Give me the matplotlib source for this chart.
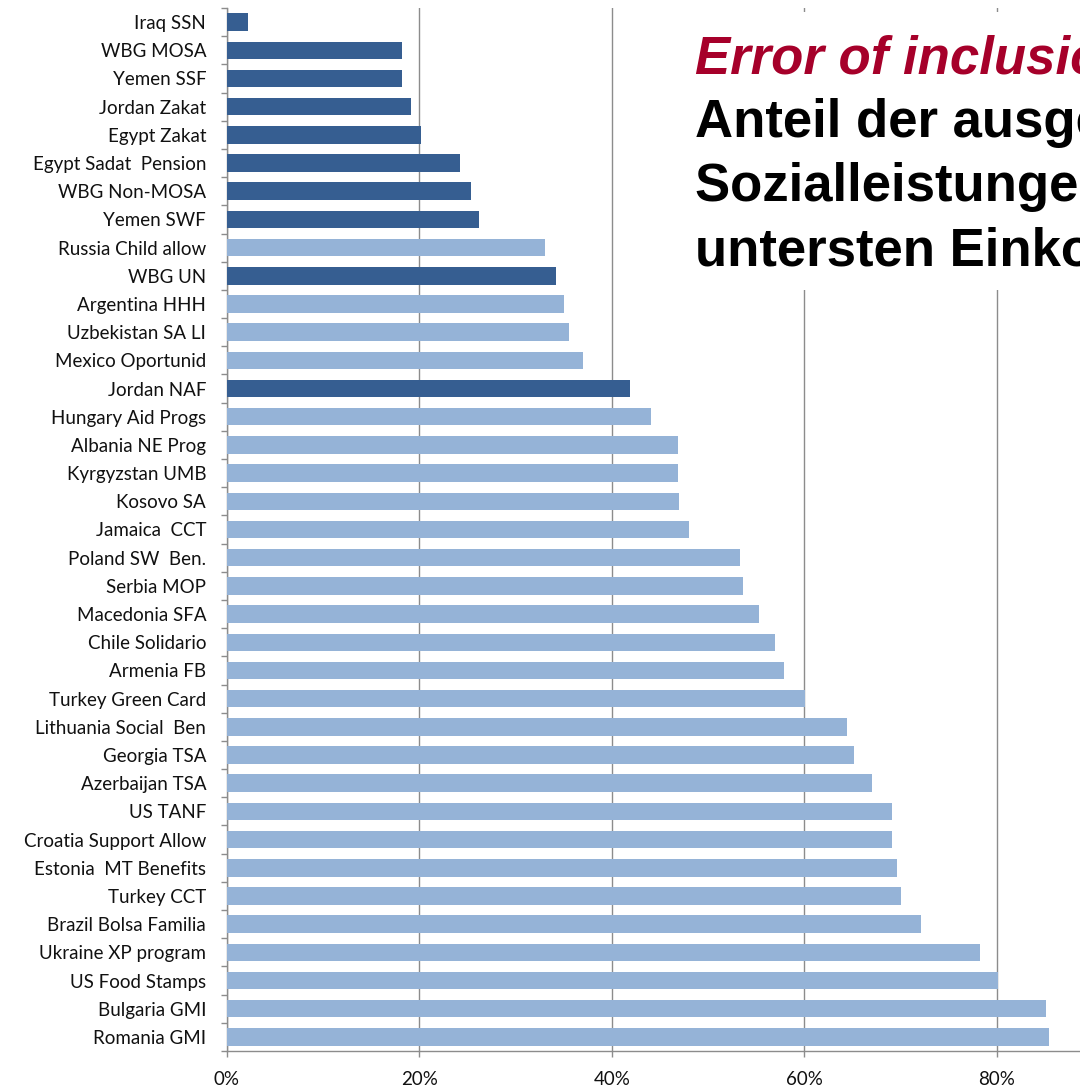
import matplotlib
matplotlib.use("Agg")
import matplotlib.pyplot as plt
from matplotlib.patches import Rectangle
from matplotlib.ticker import FixedLocator, PercentFormatter

# programmes, top to bottom
programs = ["Iraq SSN", "WBG MOSA", "Yemen SSF", "Jordan Zakat", "Egypt Zakat",
            "Egypt Sadat  Pension", "WBG Non-MOSA", "Yemen SWF", "Russia Child allow",
            "WBG UN", "Argentina HHH", "Uzbekistan SA LI", "Mexico Oportunid",
            "Jordan NAF", "Hungary Aid Progs", "Albania NE Prog", "Kyrgyzstan UMB",
            "Kosovo SA", "Jamaica  CCT", "Poland SW  Ben.", "Serbia MOP",
            "Macedonia SFA", "Chile Solidario", "Armenia FB", "Turkey Green Card",
            "Lithuania Social  Ben", "Georgia TSA", "Azerbaijan TSA", "US TANF",
            "Croatia Support Allow", "Estonia  MT Benefits", "Turkey CCT",
            "Brazil Bolsa Familia", "Ukraine XP program", "US Food Stamps",
            "Bulgaria GMI", "Romania GMI"]
share = [0.022, 0.182, 0.182, 0.191, 0.202, 0.242, 0.254, 0.262, 0.331,
         0.342, 0.350, 0.356, 0.370, 0.419, 0.441, 0.469, 0.469, 0.470,
         0.480, 0.533, 0.536, 0.553, 0.570, 0.579, 0.601, 0.645, 0.652,
         0.670, 0.691, 0.691, 0.696, 0.701, 0.721, 0.783, 0.801, 0.851, 0.854]
# 1 = Middle East / North Africa programme (dark bars)
mena = [1, 1, 1, 1, 1, 1, 1, 1, 0, 1, 0, 0, 0, 1, 0, 0, 0, 0, 0, 0, 0, 0,
        0, 0, 0, 0, 0, 0, 0, 0, 0, 0, 0, 0, 0, 0, 0]
xticks = [0, 0.2, 0.4, 0.6, 0.8]

dark = "#365E91"
light = "#95B3D7"
grey = "#8C8C8C"

W, H = 1080, 1088
fig = plt.figure(figsize=(10.8, 10.88), dpi=100)
ax = fig.add_axes([227 / W, (H - 1051) / H, 962 / W, (1051 - 8) / H])

cols = [dark if m else light for m in mena]
ypos = list(range(len(programs)))
ax.barh(ypos, share, height=0.62, color=cols, zorder=3)

ax.set_xlim(0, 1.0)
ax.set_ylim(len(programs) - 0.5, -0.5)
ax.set_xticks(xticks)
ax.xaxis.set_major_formatter(PercentFormatter(1.0, decimals=0))
ax.grid(axis="x", color=grey, linewidth=1.0, zorder=0)

ax.set_yticks(ypos)
ax.set_yticklabels(programs)
ax.yaxis.set_minor_locator(FixedLocator([i - 0.5 for i in range(len(programs) + 1)]))
ax.tick_params(axis="y", which="major", length=0, pad=15)
ax.tick_params(axis="y", which="minor", length=4.5, color=grey, width=1)
ax.tick_params(axis="x", length=4.5, color=grey, width=1, pad=10)

for lab in ax.get_yticklabels() + ax.get_xticklabels():
    lab.set_fontfamily("Lato")
    lab.set_fontsize(13.5)
    lab.set_color("#111111")

for s in ["top", "right"]:
    ax.spines[s].set_visible(False)
for s in ["left", "bottom"]:
    ax.spines[s].set_color(grey)
    ax.spines[s].set_linewidth(1.0)

# white title box sitting over the gridlines
fig.patches.append(Rectangle((660 / W, 1 - 290 / H), 1 - 660 / W, (290 - 12) / H,
                             transform=fig.transFigure, facecolor="white",
                             edgecolor="none", zorder=2))
fig.text(695 / W, 1 - 73 / H, "Error of inclusion", color="#A6002A",
         fontsize=38, fontweight="bold", fontstyle="italic",
         family="Liberation Sans", zorder=3)
lines = ["Anteil der ausgezahlten", "Sozialleistungen an die", "untersten Einkommen"]
for i, t in enumerate(lines):
    fig.text(695 / W, 1 - (137 + 64 * i) / H, t, color="black",
             fontsize=38, fontweight="bold", family="Liberation Sans", zorder=3)

fig.savefig("out.png", dpi=100)
